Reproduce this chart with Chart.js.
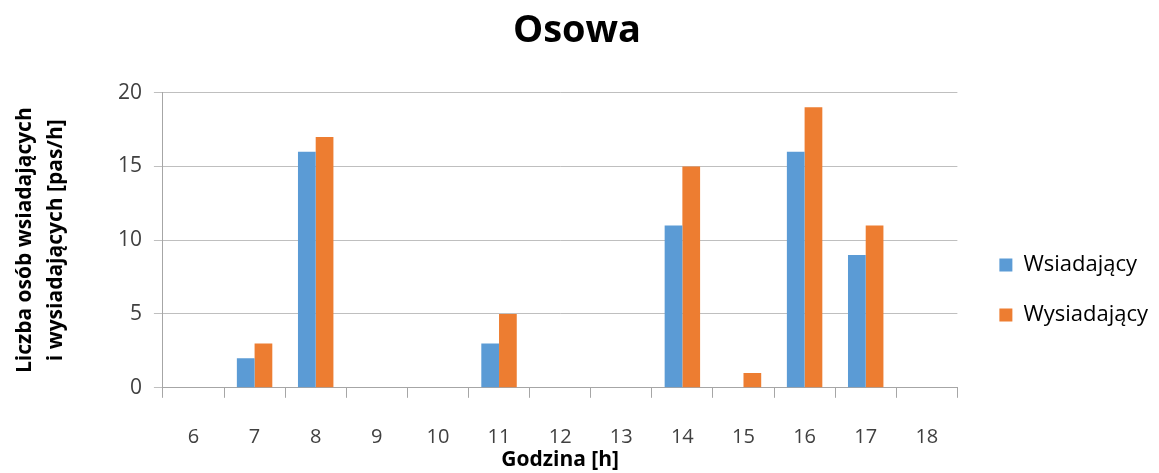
<!DOCTYPE html>
<html>
<head>
<meta charset="utf-8">
<script src="https://cdn.jsdelivr.net/npm/chart.js@4"></script>
<style>
  html, body { margin: 0; padding: 0; background: #fff; }
  #wrap { width: 1159px; height: 473px; }
</style>
</head>
<body>
<div id="wrap"><canvas id="myChart" width="1159" height="473"></canvas></div>
<script>
const hours = ["6","7","8","9","10","11","12","13","14","15","16","17","18"];
const wsiadajacy = [0, 2, 16, 0, 0, 3, 0, 0, 11, 0, 16, 9, 0];
const wysiadajacy = [0, 3, 17, 0, 0, 5, 0, 0, 15, 1, 19, 11, 0];

const ctx = document.getElementById("myChart").getContext("2d");

// push the legend a bit further right than chart.js puts it
const legendShift = {
    id: "legendShift",
    afterLayout(chart) {
        chart.legend.left += 14;
        chart.legend.right += 14;
    }
};

const myChart = new Chart(ctx, {
    type: "bar",
    data: {
        labels: hours,
        datasets: [
            {
                label: "Wsiadający",
                data: wsiadajacy,
                backgroundColor: "#5B9BD5"
            },
            {
                label: "Wysiadający",
                data: wysiadajacy,
                backgroundColor: "#ED7D31"
            }
        ]
    },
    plugins: [legendShift],
    options: {
        responsive: false,
        animation: false,
        layout: { padding: { left: 10, right: 15, top: 0, bottom: 0 } },
        datasets: {
            bar: { categoryPercentage: 0.58, barPercentage: 1.0 }
        },
        scales: {
            x: {
                grid: {
                    display: true,
                    drawOnChartArea: false,
                    tickLength: 10,
                    color: "#a6a6a6"
                },
                border: { color: "#a6a6a6" },
                ticks: { color: "#404040", font: { family: "Open Sans", size: 20 }, padding: 27 },
                title: {
                    display: true,
                    text: "Godzina [h]",
                    color: "#000",
                    font: { family: "Open Sans", size: 21, weight: "bold" },
                    padding: { top: -28, bottom: 0 }
                }
            },
            y: {
                min: 0,
                max: 20,
                ticks: { stepSize: 5, color: "#404040", font: { family: "Open Sans", size: 21 }, padding: 12 },
                grid: { color: "#bfbfbf", tickLength: 9 },
                border: { color: "#a6a6a6" },
                title: {
                    display: true,
                    text: ["Liczba osób wsiadających", "i wysiadających [pas/h]"],
                    color: "#000",
                    font: { family: "Open Sans", size: 21, weight: "bold", lineHeight: 1.45 },
                    padding: { top: 0, bottom: 35 }
                }
            }
        },
        plugins: {
            title: {
                display: true,
                text: "Osowa",
                color: "#000",
                font: { family: "Open Sans", size: 38, weight: "bold" },
                padding: { top: 8, bottom: 39 }
            },
            legend: {
                position: "right",
                title: {
                    display: true,
                    text: " ",
                    font: { size: 14 },
                    padding: 45
                },
                labels: {
                    boxWidth: 13,
                    boxHeight: 13,
                    padding: 28,
                    color: "#000",
                    font: { family: "Open Sans", size: 22 }
                }
            },
            tooltip: { enabled: false }
        }
    }
});
</script>
</body>
</html>
